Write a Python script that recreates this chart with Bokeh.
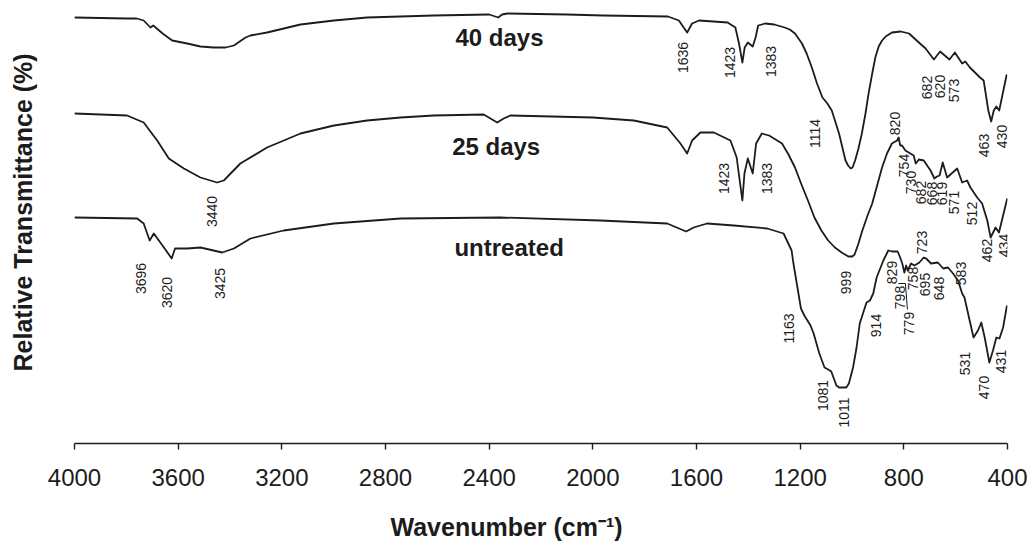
import math
from bokeh.plotting import figure
from bokeh.models import Range1d, FixedTicker, Label, ColumnDataSource, Title, LinearAxis
from bokeh.embed import file_html
from bokeh.resources import INLINE
from bokeh.core.properties import value

# ---------------- data ----------------
# wavenumber (cm-1) and relative transmittance (arbitrary, offset units)
wn_40 = [4000, 3800, 3760, 3733, 3707, 3696, 3660, 3623, 3565, 3514, 3463, 3417, 3385, 3340, 3321,
         3257, 3128, 2999, 2871, 2742, 2614, 2400, 2365, 2350, 2330, 2100, 1960, 1710, 1668, 1636,
         1617, 1590, 1480, 1450, 1436, 1423, 1414, 1402, 1383, 1372, 1362, 1335, 1300, 1260, 1240,
         1220, 1193, 1175, 1155, 1135, 1114, 1095, 1078, 1050, 1025, 1015, 1005, 998, 988, 975, 962,
         948, 936, 922, 910, 897, 884, 870, 846, 812, 780, 742, 716,
         684, 660, 624, 603, 575, 563, 545, 506, 492, 474, 463, 453, 443, 432, 403]
t_40 = [426, 425, 425, 423, 416, 418, 410, 403, 400, 397, 396, 396, 398, 406, 408,
        411, 419, 423, 426, 427, 428, 429, 426, 429, 430, 429, 428, 427, 423, 411,
        420, 423, 421, 416, 400, 381, 396, 401, 397, 406, 418, 420, 419, 416, 414,
        410, 400, 390, 376, 360, 346, 340, 333, 310, 283, 278, 275, 276, 283, 295, 310,
        330, 350, 370, 386, 397, 403, 407, 411, 412, 410, 401, 395,
        384, 392, 384, 391, 380, 382, 376, 366, 363, 333, 322, 333, 337, 333, 369]

wn_25 = [4000, 3797, 3733, 3681, 3636, 3578, 3514, 3450, 3424, 3360, 3257, 3128, 2999, 2871, 2742,
         2614, 2421, 2369, 2344, 2318, 2000, 1842, 1713, 1662, 1636, 1617, 1585, 1533, 1469, 1445,
         1423, 1415, 1402, 1383, 1370, 1348, 1320, 1270, 1245, 1220, 1195, 1170, 1145, 1118, 1092,
         1066, 1040, 1014, 999, 990, 975, 960, 940, 922, 903, 884, 865, 846, 826, 820, 814, 807,
         794, 762, 754, 742, 723, 697, 682, 672, 662, 650,
         633, 594, 575, 556, 543, 517, 498, 478, 465, 446, 433, 401]
t_25 = [330, 328, 321, 303, 285, 275, 266, 261, 263, 280, 296, 310, 318, 323, 326,
        328, 329, 321, 325, 328, 326, 323, 316, 300, 290, 303, 311, 311, 303, 286,
        243, 270, 285, 270, 300, 310, 308, 300, 289, 276, 259, 243, 226, 213, 203,
        196, 191, 187, 187, 189, 200, 213, 228, 240, 258, 276, 290, 300, 303, 306, 298, 298,
        293, 288, 280, 284, 283, 273, 265, 267, 268, 281,
        266, 275, 261, 263, 256, 246, 240, 223, 206, 216, 211, 245]

wn_un = [4000, 3758, 3733, 3710, 3694, 3655, 3625, 3612, 3565, 3514, 3430, 3385, 3321, 3193, 2999,
         2742, 2356, 1971, 1713, 1640, 1611, 1559, 1456, 1327, 1264, 1233, 1226, 1213, 1197, 1184,
         1160, 1148, 1126, 1106, 1092, 1080, 1060, 1050, 1022, 1012, 996, 983, 970, 944, 931, 918,
         905, 879, 860, 845, 824, 817, 806, 798, 791, 785, 772, 759, 740, 723, 714, 695, 669, 648,
         630, 610, 591, 575, 566, 546, 531, 514, 501, 488, 470, 456, 443, 431, 417, 402]
t_un = [226, 225, 220, 203, 210, 196, 185, 195, 195, 196, 191, 195, 205, 213, 220,
        225, 226, 223, 220, 212, 216, 220, 218, 215, 210, 193, 180, 160, 135, 128,
        118, 110, 90, 76, 74, 72, 58, 56, 56, 60, 76, 95, 120, 141, 143, 150,
        166, 183, 193, 192, 192, 188, 180, 171, 178, 173, 180, 178, 181, 186, 185, 180, 181, 175,
        176, 170, 163, 150, 146, 123, 106, 113, 121, 106, 81, 93, 106, 105, 116, 138]

series_names = ["40 days", "25 days", "untreated"]
x_ticks = [4000, 3600, 3200, 2800, 2400, 2000, 1600, 1200, 800, 400]
x_title = "Wavenumber (cm\u207b\u00b9)"
y_title = "Relative Transmittance (%)"

# peak annotations: text
peaks_40 = ["1636", "1423", "1383", "1114", "682", "620", "573", "463", "430"]
peaks_25 = ["3440", "1423", "1383", "999", "820", "754", "730", "682", "668", "619", "571",
            "512", "462", "434"]
peaks_un = ["3696", "3620", "3425", "1163", "1081", "1011", "914", "829", "798", "779", "758",
            "723", "695", "648", "583", "531", "470", "431"]

# annotation placement (data units)
pos_40 = [(1654, 386), (1469, 381), (1314, 382), (1141, 310), (709, 356), (659, 357), (607, 353),
          (491, 298), (421, 307)]
pos_25 = [(3469, 232), (1495, 265), (1327, 265), (1025, 161), (834, 320), (800, 278), (774, 261),
          (733, 251), (691, 250), (652, 250), (607, 241), (536, 230), (478, 193), (414, 198)]
pos_un = [(3745, 165), (3642, 151), (3437, 160), (1244, 115), (1111, 48), (1032, 31), (909, 118),
          (845, 171), (813, 146), (781, 120), (764, 165), (729, 201), (720, 159), (665, 155),
          (581, 170), (565, 80), (491, 56), (427, 82)]
name_pos = [(2360, 406), (2373, 297), (2323, 196)]

INK = "#1c1c1c"
FONT = "Liberation Sans"

p = figure(width=1031, height=544, output_backend="svg", toolbar_location=None,
           x_range=Range1d(4000, 400), y_range=Range1d(0, 435),
           y_axis_location=None, min_border_left=74, min_border_right=24,
           min_border_top=8, min_border_bottom=101)
p.grid.visible = False
p.outline_line_color = None
p.background_fill_color = "white"
p.border_fill_color = "white"

for wn, t in [(wn_40, t_40), (wn_25, t_25), (wn_un, t_un)]:
    p.line(wn, t, line_color=INK, line_width=1.8, line_join="round")

xs, ys, txt = [], [], []
for names, pos in [(peaks_40, pos_40), (peaks_25, pos_25), (peaks_un, pos_un)]:
    for n, (x, y) in zip(names, pos):
        txt.append(n); xs.append(x); ys.append(y)
src = ColumnDataSource(dict(x=xs, y=ys, text=txt))
p.text(x="x", y="y", text="text", source=src, angle=math.pi / 2,
       text_font=value(FONT), text_font_size=value("14px"), text_color=INK,
       text_align="center", text_baseline="middle")

# leader lines for 798 / 779
p.segment(x0=[821, 794], y0=[160, 160], x1=[794, 786], y1=[160, 134],
          line_color=INK, line_width=1)

for name, (x, y) in zip(series_names, name_pos):
    p.add_layout(Label(x=x, y=y, text=name, text_font=FONT, text_font_size="24px",
                       text_font_style="bold", text_color=INK, text_align="center",
                       text_baseline="alphabetic"))

ax = p.xaxis[0]
ax.ticker = FixedTicker(ticks=x_ticks)
ax.major_label_text_font = FONT
ax.major_label_text_font_size = "24px"
ax.major_label_text_color = INK
ax.major_label_standoff = 19
ax.major_tick_out = 6
ax.major_tick_in = 0
ax.minor_tick_out = 0
ax.minor_tick_in = 0
ax.axis_line_color = INK
ax.axis_line_width = 1.6
ax.major_tick_line_color = INK
ax.major_tick_line_width = 1.4


def spacer(size, at, y_range_name=None):
    # an invisible axis that only reserves room between the frame and a title
    a = LinearAxis(ticker=FixedTicker(ticks=[at], minor_ticks=[]), axis_line_color=None,
                   major_tick_out=size, major_tick_in=0, minor_tick_out=0, minor_tick_in=0,
                   major_tick_line_alpha=0, major_label_text_alpha=0,
                   major_label_text_font_size="1px", major_label_standoff=0,
                   major_label_overrides={at: ""})
    return a


p.add_layout(spacer(20, 2200), "below")
p.add_layout(Title(text=x_title, align="left", offset=316, standoff=4,
                   text_font=FONT, text_font_size="25px", text_font_style="bold",
                   text_color=INK), "below")
p.add_layout(spacer(36, 200), "left")
p.add_layout(Title(text=y_title, align="left", offset=72, standoff=4,
                   text_font=FONT, text_font_size="25px", text_font_style="bold",
                   text_color=INK), "left")

open("out.html", "w").write(file_html(p, INLINE))
